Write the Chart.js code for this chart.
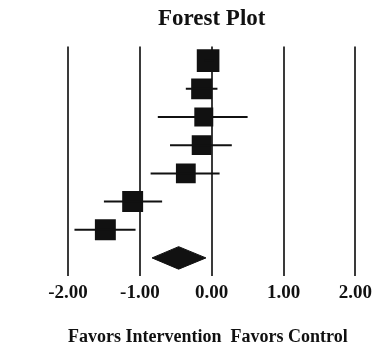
<!DOCTYPE html>
<html>
<head>
<meta charset="utf-8">
<script src="https://cdn.jsdelivr.net/npm/chart.js@4/dist/chart.umd.min.js"></script>
<style>
html,body{margin:0;padding:0;background:#fff;}
#wrap{width:378px;height:349px;}
</style>
</head>
<body>
<div id="wrap"><canvas id="c" width="378" height="349"></canvas></div>
<script>
// ---- data ----
const studies   = ["Study 1","Study 2","Study 3","Study 4","Study 5","Study 6","Study 7"];
const estimates = [-0.05, -0.14, -0.11, -0.14, -0.36, -1.10, -1.48];
const lowerCI   = [-0.10, -0.36, -0.75, -0.58, -0.85, -1.50, -1.91];
const upperCI   = [ 0.02,  0.08,  0.50,  0.28,  0.11, -0.69, -1.06];
const weights   = [16.0, 14.8, 13.4, 14.0, 14.0, 14.8, 14.8];
const pooled    = {est: -0.46, lo: -0.83, hi: -0.08};
const xTicks    = [-2, -1, 0, 1, 2];
const titleText = "Forest Plot";
const xTitle    = "Favors Intervention  Favors Control";

const serif = "'Liberation Serif','Times New Roman',serif";
const ink = '#111';

const datasets = [];
// CI lines
studies.forEach((s, i) => {
  datasets.push({
    type: 'line',
    label: s + ' CI',
    data: [{x: lowerCI[i], y: i + 1}, {x: upperCI[i], y: i + 1}],
    borderColor: ink, borderWidth: 2, pointRadius: 0, fill: false
  });
});
// squares
datasets.push({
  type: 'scatter',
  label: 'Estimates',
  data: estimates.map((v, i) => ({x: v, y: i + 1})),
  pointStyle: 'rect',
  pointRadius: weights,
  backgroundColor: ink, borderColor: ink, borderWidth: 0
});
// pooled diamond
const py = studies.length + 1;
const dh = 0.4;
datasets.push({
  type: 'line',
  label: 'Pooled',
  data: [{x: pooled.lo, y: py}, {x: pooled.est, y: py - dh}, {x: pooled.hi, y: py}, {x: pooled.est, y: py + dh}, {x: pooled.lo, y: py}],
  borderColor: ink, borderWidth: 1, backgroundColor: ink, pointRadius: 0, fill: 'shape', tension: 0
});

new Chart(document.getElementById('c'), {
  data: {datasets},
  options: {
    responsive: false,
    animation: false,
    devicePixelRatio: 1,
    layout: {padding: {left: 68, right: 20, top: 0, bottom: 0}},
    plugins: {
      legend: {display: false},
      tooltip: {enabled: false},
      title: {
        display: true, text: titleText, fullSize: false,
        color: ink, font: {family: serif, size: 23, weight: 'bold'},
        padding: {top: 5, bottom: 14}
      }
    },
    scales: {
      x: {
        type: 'linear', min: -2, max: 2,
        afterBuildTicks: (ax) => { ax.ticks = xTicks.map(v => ({value: v})); },
        afterFit: (ax) => { ax.height = 77; },
        grid: {color: '#3a3a3a', lineWidth: 2, tickLength: 4, drawOnChartArea: true},
        border: {display: false},
        ticks: {
          color: ink, padding: 6,
          font: {family: serif, size: 19, weight: 'bold'},
          callback: (v) => Number(v).toFixed(2),
          maxRotation: 0
        },
        title: {
          display: true, text: xTitle, align: 'start', color: ink,
          font: {family: serif, size: 18, weight: 'bold'},
          padding: {top: 0, bottom: 1}
        }
      },
      y: {
        type: 'linear', min: 0.5, max: 8.5, reverse: true, display: false
      }
    }
  }
});
</script>
</body>
</html>
